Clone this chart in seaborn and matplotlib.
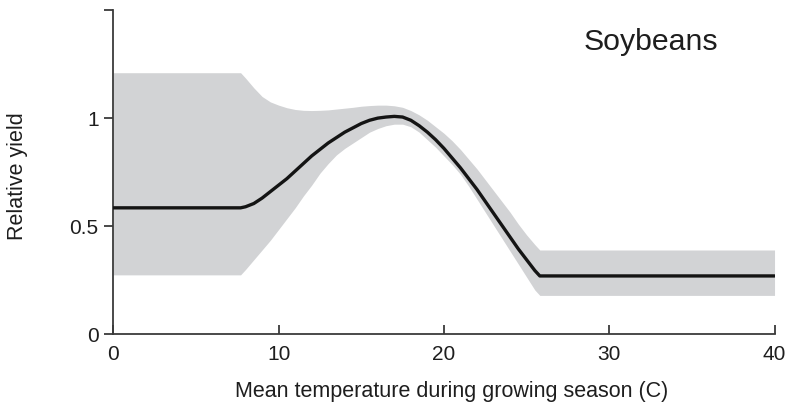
import matplotlib
matplotlib.use("Agg")
import matplotlib.pyplot as plt
import seaborn as sns
import pandas as pd

# ---- data ----
temperature = [0, 7.7, 8.0, 8.5, 9.0, 9.5, 10.0, 10.5, 11.0, 11.5, 12.0, 12.5, 13.0, 13.5,
               14.0, 14.5, 15.0, 15.5, 16.0, 16.5, 17.0, 17.5, 18.0, 18.5, 19.0, 19.5,
               20.0, 20.5, 21.0, 21.5, 22.0, 22.5, 23.0, 23.5, 24.0, 24.5, 25.0, 25.5,
               25.8, 40]
relative_yield = [0.585, 0.585, 0.59, 0.605, 0.63, 0.66, 0.69, 0.72, 0.755, 0.79, 0.825,
                  0.855, 0.885, 0.91, 0.935, 0.955, 0.975, 0.99, 1.0, 1.005, 1.008, 1.005,
                  0.99, 0.965, 0.935, 0.9, 0.86, 0.815, 0.77, 0.72, 0.67, 0.615, 0.56,
                  0.505, 0.45, 0.395, 0.345, 0.295, 0.27, 0.27]
upper_band = [1.21, 1.21, 1.185, 1.14, 1.1, 1.075, 1.06, 1.048, 1.04, 1.036, 1.035, 1.036,
              1.038, 1.042, 1.046, 1.05, 1.055, 1.058, 1.06, 1.06, 1.057, 1.05, 1.035,
              1.015, 0.99, 0.96, 0.93, 0.895, 0.855, 0.81, 0.765, 0.715, 0.665, 0.615,
              0.565, 0.51, 0.46, 0.415, 0.39, 0.39]
lower_band = [0.275, 0.275, 0.3, 0.345, 0.39, 0.435, 0.485, 0.535, 0.585, 0.64, 0.69,
              0.745, 0.79, 0.83, 0.86, 0.885, 0.91, 0.935, 0.952, 0.965, 0.972, 0.972,
              0.96, 0.935, 0.9, 0.865, 0.825, 0.785, 0.74, 0.685, 0.625, 0.565, 0.505,
              0.445, 0.385, 0.325, 0.265, 0.205, 0.18, 0.18]
x_ticks = [0, 10, 20, 30, 40]
y_ticks = [0, 0.5, 1, 1.5]
y_tick_labels = ["0", "0.5", "1", ""]
crop_label = "Soybeans"
x_label = "Mean temperature during growing season (C)"
y_label = "Relative yield"

df = pd.DataFrame({"temp": temperature, "yield": relative_yield,
                   "upper": upper_band, "lower": lower_band})

sns.set_style("ticks")
plt.rcParams["font.family"] = ["Liberation Sans", "DejaVu Sans"]

fig, ax = plt.subplots(figsize=(7.88, 4.04), dpi=100)
fig.subplots_adjust(left=0.1438, right=0.9829, bottom=0.1725, top=0.9752)

ax.fill_between(df["temp"], df["lower"], df["upper"], color="#d2d3d5", linewidth=0, zorder=1)
sns.lineplot(data=df, x="temp", y="yield", ax=ax, color="#141414", linewidth=2.4,
             sort=False, zorder=3)

ax.set_xlim(0, 40)
ax.set_ylim(0, 1.5)
ax.set_xticks(x_ticks)
ax.set_xticklabels([str(t) for t in x_ticks])
ax.set_yticks(y_ticks)
ax.set_yticklabels(y_tick_labels)

spine_col = "#3a3a3a"
for s in ["top", "right"]:
    ax.spines[s].set_visible(False)
for s in ["left", "bottom"]:
    ax.spines[s].set_color(spine_col)
    ax.spines[s].set_linewidth(1.3)

ax.tick_params(axis="x", direction="in", length=6.5, width=1.3, color=spine_col,
               labelsize=15, labelcolor="#1e1e1e", pad=8)
ax.tick_params(axis="y", direction="out", length=6.5, width=1.3, color=spine_col,
               labelsize=15, labelcolor="#1e1e1e", pad=4)

ax.set_xlabel(x_label, fontsize=15.5, color="#1e1e1e")
ax.set_ylabel(y_label, fontsize=15.5, color="#1e1e1e")
ax.xaxis.label.set_va("baseline")
ax.xaxis.set_label_coords(0.5115, -0.192)
ax.yaxis.label.set_va("center")
ax.yaxis.set_label_coords(-0.1456, 0.488)

ax.text(32.5, 1.314, crop_label, ha="center", va="baseline", fontsize=21.8, color="#1e1e1e")

fig.savefig("out.png", dpi=100)
